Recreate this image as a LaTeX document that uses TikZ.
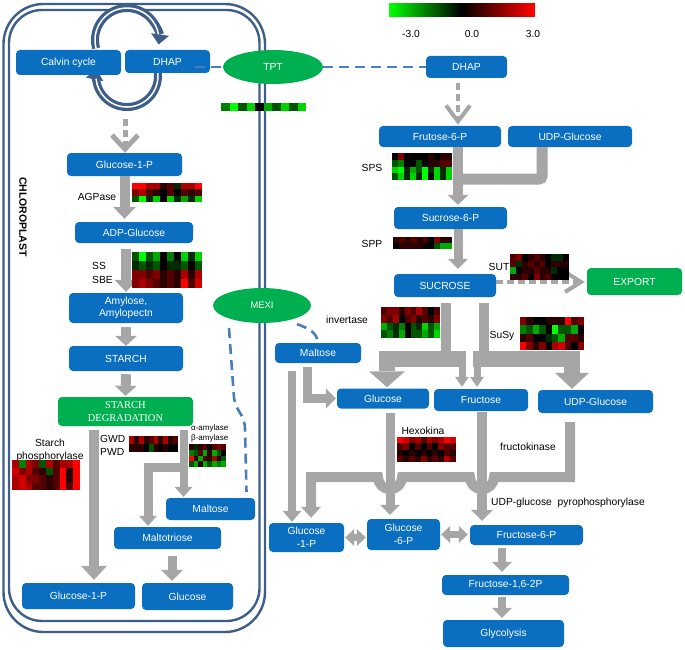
\documentclass[tikz,border=0pt]{standalone}
\usepackage{fontspec}
\setmainfont{Liberation Sans}
\newfontfamily\serifF{Liberation Serif}
\usetikzlibrary{arrows.meta,shapes.geometric}
\definecolor{nblue}{RGB}{10,110,193}
\definecolor{ngreen}{RGB}{0,176,80}
\definecolor{agray}{RGB}{166,166,166}
\definecolor{bord}{RGB}{62,94,138}
\definecolor{dblue}{RGB}{74,126,187}
\definecolor{hmred}{RGB}{255,0,0}
\definecolor{hmgreen}{RGB}{0,255,0}
\newcommand\myfs{\fontsize{10.3}{12.6}\selectfont}
\newcommand\heat[5]{%
  \foreach \hrw [count=\hri from 0] in {#5} {%
    \foreach \hval [count=\hci from 0] in \hrw {%
      \pgfmathsetmacro\hpc{min(100,abs(\hval)*100/3)}%
      \ifdim \hval pt<0pt \def\hhue{hmgreen}\else\def\hhue{hmred}\fi
      \path[fill=\hhue!\hpc!black] ({#1+\hci*#3},{#2+\hri*#4}) rectangle ++(#3,#4);
    }%
  }%
}
\begin{document}
\begin{tikzpicture}[x=1pt,y=-1pt,
  box/.style={fill=nblue, text=white, rounded corners=4pt, inner sep=1pt, font=\myfs, align=center},
  gbox/.style={box, fill=ngreen},
  oval/.style={ellipse, fill=ngreen, text=white, inner sep=0pt, font=\myfs},
  lab/.style={inner sep=0pt, font=\myfs},
  garr/.style n args={3}{draw=agray, line width=#1, -{Triangle[width=#2,length=#3,line width=0pt]}},
  gdash/.style 2 args={draw=agray, line width=4pt, dash pattern=on 7pt off 4pt, -{Straight Barb[width=#1,length=#2]}},
  gdbl/.style={draw=agray, line width=7pt, {Triangle[width=17pt,length=9pt,line width=0pt]}-{Triangle[width=17pt,length=9pt,line width=0pt]}},
  bdash/.style={draw=dblue, line width=2.6pt, dash pattern=on 10pt off 6pt},
  cyc/.style={draw=bord, line width=8pt, -{Triangle[width=18pt,length=10pt,line width=0pt]}}
]
\useasboundingbox (0,0) rectangle (685,650);
% chloroplast envelope
\draw[bord, line width=2.4pt, rounded corners=40pt] (3.5,4) rectangle (265,632);
\draw[bord, line width=2.4pt, rounded corners=33pt] (9,10) rectangle (259.5,621);
% Calvin cycle arrows
\draw[cyc] (96.1,48.3) arc[start angle=165,end angle=368,radius=32];
\draw[white, line width=1.5pt] (96.1,48.3) arc[start angle=165,end angle=350,radius=32];
\draw[cyc] (156.9,68.0) arc[start angle=-15,end angle=192,radius=31];
\draw[white, line width=1.5pt] (156.9,68.0) arc[start angle=-15,end angle=175,radius=31];

% nodes
\node[box, minimum width=105pt, minimum height=25pt] (calvin) at (68.5,62.5) {Calvin cycle};
\node[box, minimum width=85pt, minimum height=23pt] (dhapL) at (167.5,61.5) {DHAP};
\node[oval, minimum width=100pt, minimum height=34pt] (tpt) at (273,67) {TPT};
\node[box, minimum width=81pt, minimum height=22pt] (dhapR) at (466.5,67) {DHAP};
\node[box, minimum width=122pt, minimum height=21pt] (fru6p) at (440,136.5) {Frutose-6-P};
\node[box, minimum width=124pt, minimum height=21pt] (udpT) at (570,136.5) {UDP-Glucose};
\node[box, minimum width=113pt, minimum height=22pt] (suc6p) at (450.5,218) {Sucrose-6-P};
\node[box, minimum width=102pt, minimum height=23pt] (sucrose) at (445,285.5) {SUCROSE};
\node[gbox, minimum width=95pt, minimum height=27pt] (export) at (634.5,281.5) {EXPORT};
\node[oval, minimum width=98pt, minimum height=35pt, font=\fontsize{9.4}{11}\selectfont] (mexi) at (262,305.5) {MEXI};
\node[box, minimum width=86pt, minimum height=20pt] (maltR) at (318,353) {Maltose};
\node[box, minimum width=92pt, minimum height=20pt] (glcR) at (383,398.5) {Glucose};
\node[box, minimum width=94pt, minimum height=22pt] (fru) at (481,400) {Fructose};
\node[box, minimum width=115pt, minimum height=23pt] (udpM) at (595.5,401.5) {UDP-Glucose};
\node[box, minimum width=75pt, minimum height=29pt] (g1pR) at (306.5,537.5) {Glucose\\-1-P};
\node[box, minimum width=73pt, minimum height=31pt] (g6p) at (403.5,534.5) {Glucose\\-6-P};
\node[box, minimum width=113pt, minimum height=20pt] (f6p) at (526.5,535) {Fructose-6-P};
\node[box, minimum width=127pt, minimum height=20pt] (f16) at (505.5,585) {Fructose-1,6-2P};
\node[box, minimum width=121pt, minimum height=27pt] (glyc) at (503.5,633.5) {Glycolysis};
\node[box, minimum width=115pt, minimum height=23pt] (g1pC) at (124.5,164.5) {Glucose-1-P};
\node[box, minimum width=118pt, minimum height=21pt] (adpg) at (134,232.5) {ADP-Glucose};
\node[box, minimum width=114pt, minimum height=30pt] (amyl) at (126,308) {Amylose,\\Amylopectn};
\node[box, minimum width=114pt, minimum height=25pt] (starch) at (126,358.5) {STARCH};
\node[gbox, minimum width=135pt, minimum height=29pt, font=\serifF\fontsize{10.5}{12.5}\selectfont] (sdeg) at (125.5,411.5) {STARCH\\DEGRADATION};
\node[box, minimum width=89pt, minimum height=22pt] (maltC) at (210.5,509) {Maltose};
\node[box, minimum width=107pt, minimum height=22pt] (maltot) at (167.5,538) {Maltotriose};
\node[box, minimum width=113pt, minimum height=26pt] (g1pB) at (78.5,596) {Glucose-1-P};
\node[box, minimum width=91pt, minimum height=27pt] (glcB) at (187.5,596.5) {Glucose};

% chloroplast connectors
\coordinate (cycb) at (125,119);
\draw[gdash={26pt}{14pt}, line width=5pt] (cycb) -- (cycb |- g1pC.north);
\draw[garr={10pt}{23pt}{12pt}, shorten >=3pt] (g1pC.south) -- (g1pC.south |- adpg.north);
\draw[garr={10pt}{23pt}{12pt}, shorten <=6pt, shorten >=1pt] (adpg.south -| amyl.north) -- (amyl.north);
\draw[garr={10pt}{22pt}{10pt}, shorten <=4pt] (amyl.south) -- (starch.north);
\draw[garr={10pt}{22pt}{10pt}, shorten <=3pt, shorten >=1pt] (starch.south) -- (sdeg.north);
\coordinate (sd1) at ([xshift=-31.5pt,yshift=-4pt]sdeg.south);
\draw[garr={10pt}{26pt}{14pt}, shorten >=3pt] (sd1) -- (sd1 |- g1pB.north);
\coordinate (sd2) at ([xshift=58pt,yshift=-4pt]sdeg.south);
\draw[garr={8pt}{18pt}{10pt}, shorten >=1pt] (sd2) -- (sd2 |- maltC.north);
\coordinate (br) at (187.5,467);
\coordinate (mt) at ([xshift=-19.5pt]maltot.north);
\draw[garr={9pt}{18pt}{10pt}, shorten >=1pt] (br) -| (mt);
\coordinate (mo) at ([xshift=4.5pt]maltot.south);
\draw[garr={9pt}{22pt}{11pt}, shorten <=7pt, shorten >=2pt] (mo) -- (mo |- glcB.north);

% cytosol connectors
\coordinate (dh) at ([xshift=-8.5pt]dhapR.south);
\draw[gdash={24pt}{16pt}, shorten <=5pt, shorten >=1pt] (dh) -- (dh |- fru6p.north);
\coordinate (fs) at ([xshift=18pt]fru6p.south);
\draw[garr={10pt}{21pt}{10pt}, shorten >=2pt] (fs) -- (fs |- suc6p.north);
\coordinate (sj) at (460,179);
\draw[draw=agray, line width=11pt, rounded corners=3pt] ([xshift=-28pt]udpT.south) |- (sj);
\coordinate (ss) at ([xshift=7.5pt]suc6p.south);
\draw[garr={9pt}{20pt}{10pt}, shorten >=5pt] (ss) -- (ss |- sucrose.north);
\coordinate (se) at ([yshift=3.5pt]sucrose.east);
\draw[gdash={20pt}{16pt}, shorten >=2pt] (se) -- (se -| export.west);

\coordinate (jl) at (446,359);
\coordinate (jr) at (484,359);
\coordinate (jle) at (466,359);
\coordinate (jrs) at (473,359);
\coordinate (ga) at ([xshift=4pt]glcR.north);
\coordinate (fa) at ([xshift=-19pt]fru.north);
\coordinate (fb) at ([xshift=-4pt]fru.north);
\coordinate (ua) at ([xshift=-23.5pt]udpM.north);
\draw[agray, line width=10pt] ([xshift=1pt,yshift=-6pt]sucrose.south) -- (jl);
\draw[garr={16pt}{36pt}{16pt}, shorten >=1pt] (jle) -| (ga);
\draw[garr={7pt}{14pt}{10pt}, shorten >=2pt] (fa |- jl) -- (fa);
\draw[agray, line width=10pt] ([xshift=39pt,yshift=-6pt]sucrose.south) -- (jr);
\draw[garr={16pt}{34pt}{16pt}, shorten >=1pt] (jrs) -| (ua);
\draw[garr={7pt}{14pt}{10pt}, shorten >=2pt] (fb |- jr) -- (fb);

\coordinate (mr) at ([xshift=-11pt,yshift=-4pt]maltR.south);
\draw[garr={9pt}{20pt}{10pt}, shorten >=1pt] (mr) |- (glcR.west);
\coordinate (lg) at (292,371);
\draw[garr={8pt}{19pt}{11pt}, shorten >=1pt] (lg) -- (lg |- g1pR.north);
\coordinate (gs) at ([xshift=7pt,yshift=-4pt]glcR.south);
\draw[garr={9pt}{20pt}{10pt}, shorten >=4pt] (gs) -- (gs |- g6p.north);
\coordinate (fs2) at ([xshift=1pt,yshift=-1pt]fru.south);
\draw[garr={10pt}{22pt}{11pt}, shorten >=4pt] (fs2) -- (fs2 |- f6p.north);
\coordinate (us) at ([xshift=-25.5pt,yshift=-9pt]udpM.south);
\coordinate (gp) at ([xshift=4.5pt]g1pR.north);
\draw[garr={10pt}{20pt}{11pt}, shorten >=5pt] (us) -- ++(0,55) -- ++(-76,0) arc[start angle=0,end angle=180,radius=12] -- ++(-68,0) arc[start angle=0,end angle=180,radius=12] -| (gp);
\draw[gdbl, shorten <=1pt, shorten >=1pt] (g1pR.east) -- (g1pR.east -| g6p.west);
\draw[gdbl, shorten <=1pt, shorten >=2pt] (g6p.east) -- (g6p.east -| f6p.west);
\coordinate (f6s) at ([xshift=-24.5pt]f6p.south);
\draw[garr={8pt}{20pt}{10pt}, shorten <=3pt, shorten >=3pt] (f6s) -- (f6s |- f16.north);
\coordinate (f16s) at ([xshift=-3.5pt]f16.south);
\draw[garr={8pt}{20pt}{10pt}, shorten <=2pt, shorten >=2pt] (f16s) -- (f16s |- glyc.north);

% transporter lines
\coordinate (dl) at ([xshift=-15pt,yshift=-5.5pt]dhapL.east);
\draw[bdash] (dl) -- (tpt.west);
\draw[bdash] (tpt.east) -- (dhapR.west);
\coordinate (mx1) at ([xshift=-33pt,yshift=-5pt]mexi.south);
\draw[bdash] (mx1) -- (234,398) .. controls (236,412) and (244,413) .. (245,428) -- ([xshift=36pt,yshift=6pt]maltC.north);
\coordinate (mx2) at ([xshift=35pt,yshift=-1pt]mexi.south);
\draw[bdash] (mx2) .. controls +(12,4) and +(-1,-10) .. (maltR.north);

% labels
\node[lab] (agp) at (97,197) {AGPase};
\node[lab, anchor=west] (ssl) at (92,266) {SS};
\node[lab, anchor=west] (sbel) at (92,280) {SBE};
\node[lab] (st1) at (50,443) {Starch};
\node[lab] (st2) at (50,456.5) {phosphorylase};
\node[lab, anchor=west] (gwd) at (100,439) {GWD};
\node[lab, anchor=west] (pwd) at (100,452) {PWD};
\node[lab, anchor=west, font=\fontsize{8}{9}\selectfont] (aam) at (191,428) {α-amylase};
\node[lab, anchor=west, font=\fontsize{8}{9}\selectfont] (bam) at (191,438) {β-amylase};
\node[lab] (sps) at (372,168) {SPS};
\node[lab] (spp) at (372,244) {SPP};
\node[lab] (sut) at (499,267) {SUT};
\node[lab] (inv) at (347,320) {invertase};
\node[lab] (susy) at (502,336) {SuSy};
\node[lab] (hexo) at (423,431) {Hexokina};
\node[lab] (fk) at (528,447) {fructokinase};
\node[lab] (udpp) at (568,503) {UDP-glucose\hspace{3pt} pyrophosphorylase};
\node[lab] (cbl) at (411,34) {-3.0};
\node[lab] (cbm) at (472,34) {0.0};
\node[lab] (cbr) at (533,34) {3.0};
\node[lab, rotate=-90, font=\bfseries\fontsize{10.5}{12}\selectfont] (chl) at (23,217) {CHLOROPLAST};

% colour bar
\foreach \ci in {0,...,72}{%
  \pgfmathsetmacro\cv{-3+6*\ci/72}%
  \pgfmathsetmacro\hpc{min(100,abs(\cv)*100/3)}%
  \ifdim \cv pt<0pt \def\hhue{hmgreen}\else\def\hhue{hmred}\fi
  \path[fill=\hhue!\hpc!black] ({389+2*\ci},3) rectangle ++(2.1,14);
}

% heat maps
\heat{221}{103}{8.5}{8}{{-1.5,-3,-1,-2.5,0,-2,-1,-2.5,-1,-2.5}}
\heat{132}{183}{7}{6.33}{{3,3,2,2,0.5,1,-0.5,2,2,3},{1.5,2,1,0.5,0,1,0,1,0.5,1},{-1,-3,-0.5,-2.5,0,-2.5,-0.5,-2,-0.5,-2.5}}
\heat{132}{252}{7}{9}{{-1,-3,-1,-2,0,-1.5,0,-2.5,-0.5,-2.5},{-0.5,-1,-0.5,-1,0,-0.5,-0.5,-1,0,-1},{1.5,1.5,1,1.5,0.5,1,0.5,2,0.5,2},{1.5,2,1.5,1,0.5,1,0.5,3,1,2.5}}
\heat{392}{153}{6}{6.75}{{0,1.5,0,0,0,0,0.5,0,0.5,0.5},{-1,-1.5,0,0,-1,0,0.5,0.5,1,1},{-2.5,-3,-0.5,-2,-1,-3,-0.5,-2.5,-0.5,-2.5},{-1,-2.5,-0.5,-2.5,-0.5,-3,0,-2.5,-0.5,-2.5}}
\heat{393}{237}{5.9}{6}{{0.5,1,0.5,1,0.5,1,0,1.5,0.5,0.5},{0,0.5,0.5,0.5,0.5,0,0,-1,-2,-2}}
\heat{510}{254}{5.9}{6.5}{{1,1.5,0,0.5,1,0.5,0,-0.5,-0.5,0},{1,-0.5,0.5,1,0.5,1,0,0.5,0.5,0.5},{-2,0,0.5,0.5,1,0.5,0.5,-0.5,0,0},{0.5,0.5,1,0,1.5,0.5,1,0,0,0}}
\heat{381}{307}{5.9}{7.75}{{1,1.5,1.5,0.5,1.5,1,2,1,0,1},{1.5,1,2,0,1,1.5,0.5,1,0.5,1.5},{-2,-1,-0.5,-1.5,0,-1,-0.5,-2.5,-1,-2},{-1,-1.5,-0.5,-2,0,-1,-1,-2,-1,-2.5}}
\heat{520}{317}{6.4}{8.25}{{1.5,0.5,0,0,0.5,0.5,0.5,3,1,1.5},{-1.5,-1,-2,-1,0,-3,-1,-1,-2,0},{0.5,1,0,0,-0.5,-1,-2,1,1,0.5},{3,1.5,0.5,1.5,0,2,2.5,1,0,1.5}}
\heat{397}{437}{5.9}{6.25}{{3,2.5,1.5,2,1,2,1.5,2,3,2.5},{1,1.5,0,1,0,1,0,1.5,1,1},{0.5,0,0.5,0,0.5,0,0.5,0,1,0.5},{1,0.5,1,0.5,1.5,0.5,1,0.5,2,1}}
\heat{12}{460}{6.8}{7.5}{{2,-1.5,2,1.5,-1,2,1,2,2,3},{2.5,1.5,2,1,0.5,-1,1,3,0.5,3},{2,2.5,1.5,1.5,1,0.5,1,3,0.5,3},{2,2.5,2,1,1,0.5,1,3,1,3}}
\heat{129}{436}{4.9}{8}{{2,0.5,2,0.5,1,2,0.5,2,0.5,1},{0.5,0.5,0.5,0,-1,0.5,0,0.5,0,0}}
\heat{189}{444}{4.6}{5.75}{{0.5,-0.5,0.5,1,0,1,1.5,1},{-1.5,-1,1,-2,0.5,-2,-1,0},{3,0.5,-2,1,0.5,2,0.5,-1},{-1,-2,0.5,-2,-1,-2,-1.5,-2}}
\end{tikzpicture}
\end{document}
